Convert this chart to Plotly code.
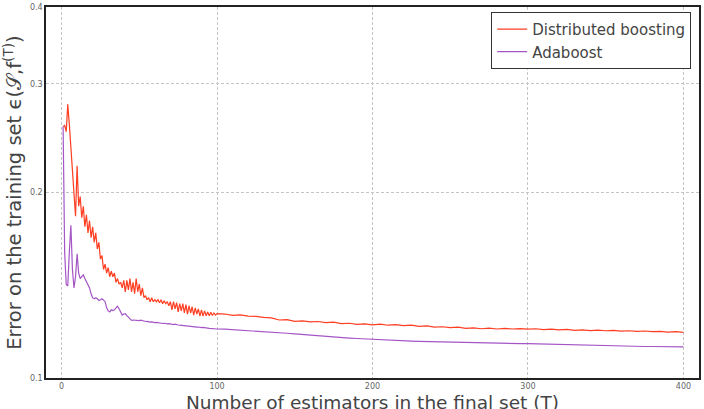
import plotly.graph_objects as go

# ---------------- data ----------------
T_early = list(range(1, 101))
T_late = list(range(105, 401, 5))
T = T_early + T_late

dist_early = [
    0.256, 0.257, 0.251, 0.278, 0.258, 0.236, 0.214, 0.196, 0.183, 0.221,
    0.190, 0.197, 0.182, 0.190, 0.176, 0.184, 0.172, 0.180, 0.169, 0.176,
    0.166, 0.172, 0.162, 0.166, 0.156, 0.158, 0.150, 0.153, 0.148, 0.151,
    0.146, 0.149, 0.146, 0.148, 0.143, 0.145, 0.142, 0.143, 0.140, 0.144,
    0.138, 0.144, 0.139, 0.145, 0.138, 0.143, 0.137, 0.145, 0.138, 0.142,
    0.136, 0.140, 0.135, 0.136, 0.134, 0.135, 0.133, 0.135, 0.133, 0.134,
    0.133, 0.134, 0.1325, 0.134, 0.132, 0.1335, 0.132, 0.133, 0.131, 0.133,
    0.129, 0.133, 0.1295, 0.1325, 0.128, 0.132, 0.1285, 0.132, 0.1275, 0.1315,
    0.127, 0.131, 0.1275, 0.1305, 0.1265, 0.130, 0.127, 0.1295, 0.126, 0.129,
    0.126, 0.1285, 0.1262, 0.128, 0.1262, 0.1278, 0.1263, 0.1275, 0.1265, 0.1272,
]
dist_late = [
    0.1270, 0.1264, 0.1266, 0.1260, 0.1259, 0.1254, 0.1252, 0.1242, 0.1244, 0.1236,
    0.1238, 0.1233, 0.1235, 0.1230, 0.1232, 0.1225, 0.1227, 0.1222, 0.1224, 0.1220,
    0.1223, 0.1218, 0.1221, 0.1216, 0.1218, 0.1213, 0.1215, 0.1209, 0.1211, 0.1207,
    0.1209, 0.1204, 0.1206, 0.1202, 0.1205, 0.1201, 0.1204, 0.1201, 0.1203, 0.1200,
    0.1202, 0.1198, 0.1200, 0.1197, 0.1199, 0.1195, 0.1197, 0.1194, 0.1196, 0.1193,
    0.1195, 0.1191, 0.1193, 0.1190, 0.1192, 0.1189, 0.1190, 0.1187, 0.1189, 0.1186,
]
distributed = dist_early + dist_late

ada_early = [
    0.256, 0.160, 0.142, 0.141, 0.160, 0.177, 0.150, 0.140, 0.146, 0.159,
    0.148, 0.145, 0.146, 0.147, 0.145, 0.143, 0.141, 0.140, 0.137, 0.135,
    0.1345, 0.135, 0.1345, 0.1336, 0.1340, 0.1345, 0.1338, 0.1330, 0.1300, 0.1285,
    0.1280, 0.1290, 0.1287, 0.1290, 0.1300, 0.1308, 0.1295, 0.1275, 0.1265, 0.1270,
    0.1272, 0.1262, 0.1255, 0.1245, 0.1240, 0.1242, 0.1241, 0.1240, 0.1242, 0.1239,
    0.1241, 0.1238, 0.1236, 0.1235, 0.1236, 0.1233, 0.1232, 0.1233, 0.1231, 0.1230,
    0.1231, 0.1229, 0.1228, 0.1227, 0.1226, 0.1227, 0.1225, 0.1224, 0.1225, 0.1223,
    0.1222, 0.1221, 0.1223, 0.1220, 0.1219, 0.1218, 0.1217, 0.1219, 0.1216, 0.1214,
    0.1213, 0.1214, 0.1212, 0.1211, 0.1210, 0.1211, 0.1209, 0.1210, 0.1208, 0.1207,
    0.1208, 0.1206, 0.1205, 0.1205, 0.1204, 0.1203, 0.1203, 0.1202, 0.1202, 0.1201,
]
ada_late = [
    0.1200, 0.1198, 0.1196, 0.1194, 0.1191, 0.1188, 0.1189, 0.1186, 0.1182, 0.1179,
    0.1176, 0.1173, 0.1170, 0.1168, 0.1166, 0.1163, 0.1161, 0.1159, 0.1157, 0.1156,
    0.1155, 0.1153, 0.1151, 0.1149, 0.1148, 0.1147, 0.1146, 0.1145, 0.1144, 0.1144,
    0.1143, 0.1142, 0.1141, 0.1140, 0.1139, 0.1139, 0.1138, 0.1138, 0.1137, 0.1137,
    0.1136, 0.1135, 0.1135, 0.1134, 0.1133, 0.1132, 0.1132, 0.1131, 0.1130, 0.1129,
    0.1128, 0.1127, 0.1127, 0.1126, 0.1125, 0.1125, 0.1124, 0.1124, 0.1123, 0.1123,
]
adaboost = ada_early + ada_late

x_ticks = [0, 100, 200, 300, 400]
y_ticks = [0.1, 0.2, 0.3, 0.4]
y_tick_labels = ["0.1", "0.2", "0.3", "0.4"]
x_title = "Number of estimators in the final set (T)"

# ---------------- figure ----------------
fig = go.Figure()
fig.add_trace(go.Scatter(x=T, y=distributed, mode="lines", name="Distributed boosting",
                         line=dict(color="#ff3e22", width=1.2)))
fig.add_trace(go.Scatter(x=T, y=adaboost, mode="lines", name="Adaboost",
                         line=dict(color="#a455c6", width=1.2)))

fig.update_layout(
    width=704, height=409,
    margin=dict(l=46, r=3, t=5, b=31),
    paper_bgcolor="white", plot_bgcolor="white",
    font=dict(family="DejaVu Sans", color="#444"),
    showlegend=True,
    legend=dict(x=0.988, y=0.9866, xanchor="right", yanchor="top",
                bgcolor="white", bordercolor="#333", borderwidth=1,
                font=dict(size=15, color="#444"), itemwidth=30),
    annotations=[dict(text=x_title, xref="paper", yref="paper", x=0.5, y=-0.0322,
                      xanchor="center", yanchor="top", showarrow=False,
                      font=dict(size=18.5, color="#444"))],
)
fig.update_xaxes(
    range=[-10, 410], tickvals=x_ticks, ticks="",
    tickfont=dict(size=8, color="#666"),
    showgrid=True, gridcolor="#c4c4c4", griddash="3px,2px", gridwidth=1,
    showline=True, mirror=True, linecolor="#222", linewidth=1.5,
    zeroline=False,
)
fig.update_yaxes(
    type="log", range=[-1, -0.39794],
    tickvals=y_ticks, ticktext=y_tick_labels, ticks="",
    tickfont=dict(size=8, color="#666"),
    showgrid=True, gridcolor="#c4c4c4", griddash="3px,2px", gridwidth=1,
    showline=True, mirror=True, linecolor="#222", linewidth=1.5,
    zeroline=False,
    title=dict(text="Error on the training set ϵ(𝒮,f<sup>(T)</sup>)",
               font=dict(size=19.5, color="#444"), standoff=3),
)

fig.write_html("out.html")
